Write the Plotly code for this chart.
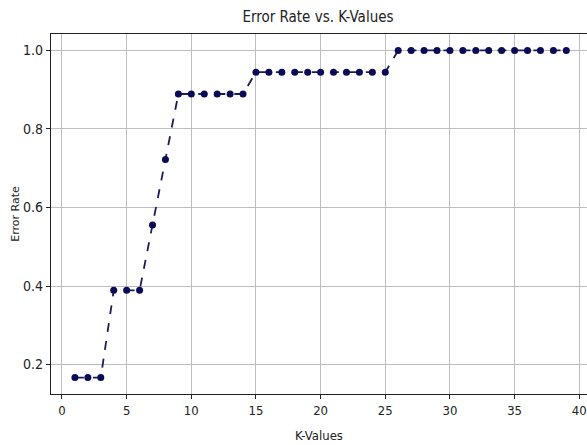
import plotly.graph_objects as go

k_values = list(range(1, 40))
error_rates = [0.1667, 0.1667, 0.1667,
               0.3889, 0.3889, 0.3889,
               0.5556, 0.7222,
               0.8889, 0.8889, 0.8889, 0.8889, 0.8889, 0.8889,
               0.9444, 0.9444, 0.9444, 0.9444, 0.9444, 0.9444, 0.9444, 0.9444, 0.9444, 0.9444, 0.9444,
               1.0, 1.0, 1.0, 1.0, 1.0, 1.0, 1.0, 1.0, 1.0, 1.0, 1.0, 1.0, 1.0, 1.0]
x_ticks = [0, 5, 10, 15, 20, 25, 30, 35, 40]
y_ticks = [0.2, 0.4, 0.6, 0.8, 1.0]

cond = "DejaVu Sans Condensed, Liberation Sans Narrow, sans-serif"

fig = go.Figure()
fig.add_trace(go.Scatter(
    x=k_values, y=error_rates, mode="lines+markers",
    line=dict(color="#1c1c5c", width=1.8, dash="dash"),
    marker=dict(color="#0b0b55", size=7, symbol="circle"),
    showlegend=False,
))

fig.update_layout(
    width=587, height=445,
    margin=dict(l=51, r=0, t=34, b=51),
    paper_bgcolor="white", plot_bgcolor="white",
    title=dict(text="Error Rate vs. K-Values", x=0.5417, xanchor="center",
               y=0.962, yanchor="middle",
               font=dict(family=cond, size=15, color="#222")),
    xaxis=dict(range=[-0.85, 40.6], tickvals=x_ticks, ticks="outside", ticklen=4,
               tickcolor="#222", showline=True, linecolor="#222", linewidth=1.2,
               mirror=True, showgrid=True, gridcolor="#bdbdbd", gridwidth=0.8,
               zeroline=False, automargin=False,
               tickfont=dict(family=cond, size=13, color="#222"),
               title=dict(text="K-Values", font=dict(family=cond, size=13, color="#222"),
                          standoff=14)),
    yaxis=dict(range=[0.125, 1.0417], tickvals=y_ticks, tickformat=".1f",
               ticks="outside", ticklen=4, tickcolor="#222", showline=True,
               linecolor="#222", linewidth=1.2, showgrid=True, gridcolor="#bdbdbd",
               gridwidth=0.8, zeroline=False, automargin=False,
               tickfont=dict(family=cond, size=14, color="#222"),
               title=dict(text="Error Rate", font=dict(family="DejaVu Sans", size=11, color="#222"),
                          standoff=1)),
)

fig.write_html("out.html", config={"displayModeBar": False},
               post_script="document.body.style.margin='0';document.body.style.overflow='hidden';")
